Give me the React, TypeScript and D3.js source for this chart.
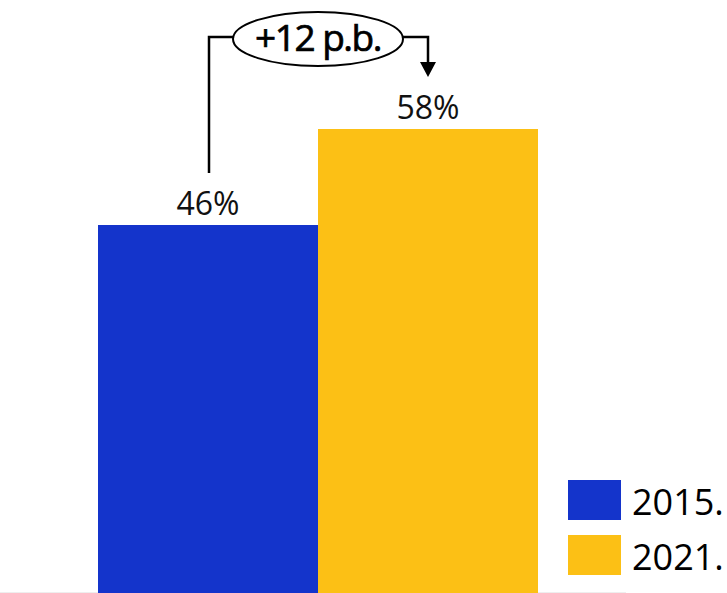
import React from "react";
import * as d3 from "d3";

const categories = ["2015.", "2021."];
const values = [46, 58];
const valueLabels = ["46%", "58%"];
const colors = ["#1434CB", "#FCC015"];
const annotation = "+12 p.b.";

const W = 727;
const H = 593;

export default function App() {
  const x = d3.scaleBand<string>().domain(categories).range([98, 538]).padding(0);
  const y = d3.scaleLinear().domain([0, 100]).range([593, -207]);
  const font = "'Open Sans', sans-serif";

  const cx0 = (x(categories[0]) as number) + x.bandwidth() / 2;
  const cx1 = (x(categories[1]) as number) + x.bandwidth() / 2;
  const ellCx = 318;
  const ellCy = 39;
  const rx = 85;
  const ry = 27;
  const lineY = 37;
  const leftEdgeX = ellCx - rx * Math.sqrt(1 - ((lineY - ellCy) / ry) ** 2);
  const rightEdgeX = ellCx + rx * Math.sqrt(1 - ((lineY - ellCy) / ry) ** 2);
  const arrowTip = 77;

  return (
    <svg
      width={W}
      height={H}
      style={{ position: "absolute", left: 0, top: 0, background: "#fff" }}
      fontFamily={font}
    >
      <line x1={0} x2={626} y1={592.5} y2={592.5} stroke="#eeeeee" strokeWidth={1} />
      {categories.map((c, i) => (
        <g key={c}>
          <rect
            x={x(c)}
            y={y(values[i])}
            width={x.bandwidth()}
            height={y(0) - y(values[i])}
            fill={colors[i]}
          />
          <text
            x={(x(c) as number) + x.bandwidth() / 2}
            y={y(values[i]) - 10}
            textAnchor="middle"
            fontSize={32}
            fill="#111"
          >
            {valueLabels[i]}
          </text>
        </g>
      ))}
      {/* annotation */}
      <path
        d={`M${cx0 + 1},${y(values[0]) - 52} V${lineY} H${leftEdgeX}`}
        fill="none"
        stroke="#000"
        strokeWidth={2.5}
      />
      <path
        d={`M${rightEdgeX},${lineY} H${cx1} V${arrowTip - 14}`}
        fill="none"
        stroke="#000"
        strokeWidth={2.5}
      />
      <path
        d={`M${cx1 - 8},${arrowTip - 15} L${cx1 + 8},${arrowTip - 15} L${cx1},${arrowTip} Z`}
        fill="#000"
      />
      <ellipse cx={ellCx} cy={ellCy} rx={rx} ry={ry} fill="#fff" stroke="#000" strokeWidth={2} />
      <text
        x={ellCx}
        y={51}
        textAnchor="middle"
        fontSize={37}
        fontWeight={400}
        letterSpacing={-1.5}
        stroke="#000"
        strokeWidth={0.7}
        fill="#000"
      >
        {annotation}
      </text>
      {/* legend */}
      {categories.map((c, i) => (
        <g key={"lg" + c} transform={`translate(568, ${480 + i * 55})`}>
          <rect width={53} height={40} fill={colors[i]} />
          <text x={64} y={35} fontSize={36} fill="#000">
            {c}
          </text>
        </g>
      ))}
    </svg>
  );
}
